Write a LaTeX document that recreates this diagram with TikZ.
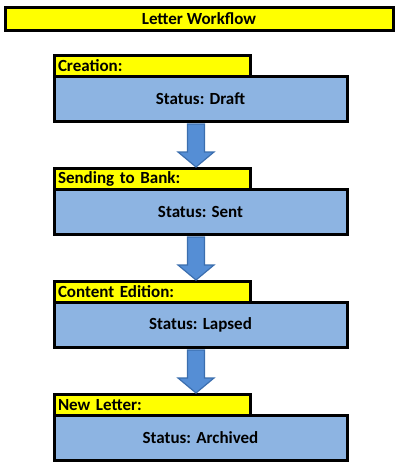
\documentclass[tikz,border=0pt]{standalone}
\usepackage{fontspec}
\setmainfont{Carlito}
\usetikzlibrary{calc}
\definecolor{titley}{HTML}{FFFF00}
\definecolor{boxblue}{HTML}{8DB4E2}
\definecolor{arrowfill}{HTML}{558ED5}
\definecolor{arrowline}{HTML}{3B6EAE}
\tikzset{
  txt/.style={font=\fontsize{17}{19}\selectfont\bfseries},
  titlebox/.style={txt, draw=black, line width=3pt, fill=titley, minimum width=388pt, minimum height=23pt, inner sep=0pt, anchor=north west},
  phasebox/.style={txt, draw=black, line width=3pt, fill=titley, text width=188pt, align=left, minimum height=21.5pt, inner xsep=4pt, inner ysep=0pt, anchor=north west},
  statusbox/.style={txt, draw=black, line width=3pt, fill=boxblue, minimum width=293pt, minimum height=44.5pt, inner sep=0pt, anchor=north west},
  bigarrow/.style={draw=arrowline, line width=1.2pt, fill=arrowfill, line join=miter}
}
\begin{document}
\begin{tikzpicture}[x=1pt,y=-1pt]
\useasboundingbox (0,0) rectangle (400,467);
\node[titlebox] (title) at (3.5,5.5) {Letter Workflow};

\node[statusbox] (s1) at (52.5,75) {Status: Draft};
\node[phasebox] (c1) at (52.5,53.5) {Creation:};

\node[statusbox] (s2) at (52.5,188) {Status: Sent};
\node[phasebox] (c2) at (52.5,166.5) {Sending to Bank:};

\node[statusbox] (s3) at (52.5,301) {Status: Lapsed};
\node[phasebox] (c3) at (52.5,279.5) {Content Edition:};

\node[statusbox] (s4) at (52.5,414) {Status: Archived};
\node[phasebox] (c4) at (52.5,392.5) {New Letter:};

\foreach \a/\b in {s1/c2, s2/c3, s3/c4}{
  \path ($(\a.south)+(-4.5,1.5)$) coordinate (as);
  \path ($(\b.north -| as)+(0,0.5)$) coordinate (ae);
  \draw[bigarrow] ($(as)+(-8.5,0)$) -- ($(as)+(8.5,0)$) -- ($(ae)+(8.5,-15)$) -- ($(ae)+(18,-15)$) -- (ae) -- ($(ae)+(-18,-15)$) -- ($(ae)+(-8.5,-15)$) -- cycle;
}
\end{tikzpicture}
\end{document}
